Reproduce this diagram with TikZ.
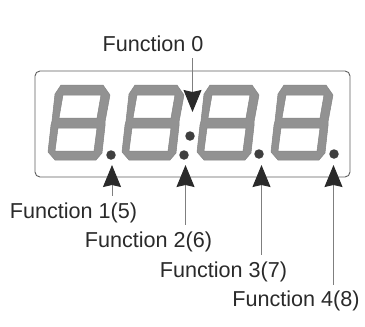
\documentclass[tikz,border=0pt]{standalone}
\usepackage{fontspec}
\setmainfont{Liberation Sans}
\usetikzlibrary{arrows.meta}
\definecolor{seg}{HTML}{929292}
\definecolor{segedge}{HTML}{858585}
\definecolor{ink}{HTML}{2A2A2A}
\tikzset{
  panel/.style={draw=ink!75,line width=0.9pt,rounded corners=5pt},
  lbl/.style={font=\fontsize{21.6}{21.6}\selectfont,text=ink,inner sep=0pt,anchor=center,text height=15pt,text depth=4pt},
  dotmark/.style={circle,fill=ink!90,draw=none,minimum size=9.5pt,inner sep=0pt},
  pointer/.style={draw=ink!60,line width=0.9pt,-{Stealth[length=22pt,width=18pt,inset=2pt,color=ink,fill=ink]}},
  digitshape/.style={fill=seg,draw=segedge,line width=0.5pt,even odd rule,line join=round},
  digit/.pic={
    \path[digitshape]
      (6,-1)--(47,-1)--(53,6)--(56,33)--(56,37)--(61,64)--(54,74)--(12,74)--(6,65)--(3,38)--(2,34)--(-1,7)--cycle
      (14,64)--(52,64)--(48,41)--(10,41)--cycle
      (9,31)--(48,31)--(45,8)--(6,8)--cycle;
  }
}
\begin{document}
\begin{tikzpicture}[x=1pt,y=-1pt]
\useasboundingbox[fill=white] (0,0) rectangle (365,327);
\node[panel,minimum width=315pt,minimum height=106pt,inner sep=0pt] (box) at (192.5,124) {};
\foreach \n/\x in {a/49,b/123,c/198,d/272}{
  \begin{scope}[shift={(\x,159)},x=1pt,y=1pt]
    \pic (\n) {digit};
  \end{scope}
}
\node[dotmark] (d1) at (111,155) {};
\node[dotmark] (d2) at (184,155) {};
\node[dotmark] (d3) at (259,154) {};
\node[dotmark] (d4) at (334,154) {};
\node[dotmark] (colon) at (190,136) {};
\node[lbl] (f0) at (153,46) {Function 0};
\node[lbl] (f1) at (73.5,213) {Function 1(5)};
\node[lbl] (f2) at (148.5,242) {Function 2(6)};
\node[lbl] (f3) at (223.5,272) {Function 3(7)};
\node[lbl] (f4) at (296,301) {Function 4(8)};
\coordinate (t0) at (192.5,112);
\coordinate (t1) at (112,165);
\coordinate (t2) at (185.5,165);
\coordinate (t3) at (261.5,165);
\coordinate (t4) at (333.5,165);
\draw[pointer] ([yshift=-2.5pt]f0.south -| t0) -- (t0);
\draw[pointer] ([yshift=7.5pt]f1.north -| t1) -- (t1);
\draw[pointer] ([yshift=7.5pt]f2.north -| t2) -- (t2);
\draw[pointer] ([yshift=7.5pt]f3.north -| t3) -- (t3);
\draw[pointer] ([yshift=6.5pt]f4.north -| t4) -- (t4);
\end{tikzpicture}
\end{document}
